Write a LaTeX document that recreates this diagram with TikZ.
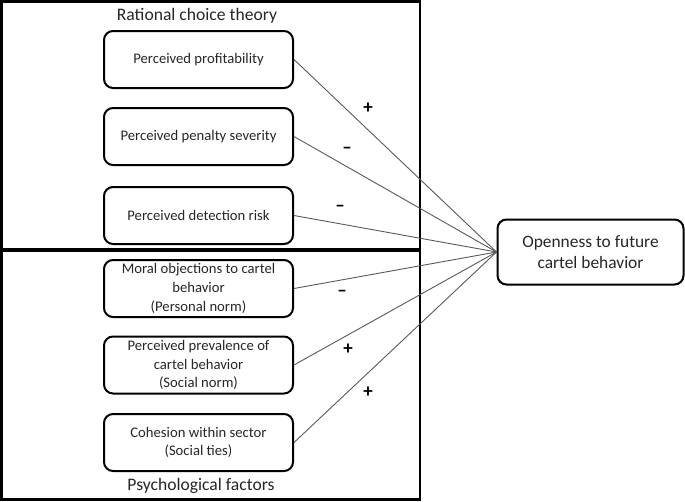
\documentclass[tikz,border=0pt]{standalone}
\usepackage{fontspec}
\setmainfont{Carlito}
\begin{document}
\begin{tikzpicture}[x=1pt,y=-1pt,
  factor/.style={draw=black, line width=2pt, rounded corners=9pt, minimum width=189pt, minimum height=57pt, inner sep=0pt, align=center, text=black!85, font=\fontsize{14.67}{18.6}\selectfont},
  outcome/.style={draw=black, line width=2pt, rounded corners=9pt, minimum width=186pt, minimum height=65pt, inner sep=0pt, align=center, text=black!85, font=\fontsize{17.4}{21}\selectfont},
  title/.style={inner sep=0pt, text=black!85, font=\fontsize{17.6}{21}\selectfont},
  link/.style={draw=black!65, line width=0.9pt},
  sign/.style={inner sep=0pt, font=\fontsize{19}{22}\selectfont\bfseries}]
\useasboundingbox (0,0) rectangle (685,501);
\draw[line width=2.6pt] (1.3,1.3) rectangle (420,499.7);
\draw[line width=4pt] (0,250) -- (420,250);
\node[title] (t1) at (197,16) {Rational choice theory};
\node[title] (t2) at (201,486) {Psychological factors};
\node[factor] (f1) at (198.5,59.5) {Perceived profitability};
\node[factor] (f2) at (198.5,136.5) {Perceived penalty severity};
\node[factor] (f3) at (198.5,215.5) {Perceived detection risk};
\node[factor] (f4) at (198.5,288.5) {Moral objections to cartel\\behavior\\(Personal norm)};
\node[factor] (f5) at (198.5,365) {Perceived prevalence of\\cartel behavior\\(Social norm)};
\node[factor] (f6) at (198.5,442.5) {Cohesion within sector\\(Social ties)};
\node[outcome] (o) at (590.5,252) {Openness to future\\cartel behavior};
\foreach \n in {f1,f2,f3,f4,f5,f6} \draw[link] (\n.east) -- (o.west);
\node[sign] (s1) at (368,108) {+};
\node[sign] (s2) at (347,150) {–};
\node[sign] (s3) at (340,208) {–};
\node[sign] (s4) at (342,293) {–};
\node[sign] (s5) at (348,349) {+};
\node[sign] (s6) at (368,392) {+};
\end{tikzpicture}
\end{document}
